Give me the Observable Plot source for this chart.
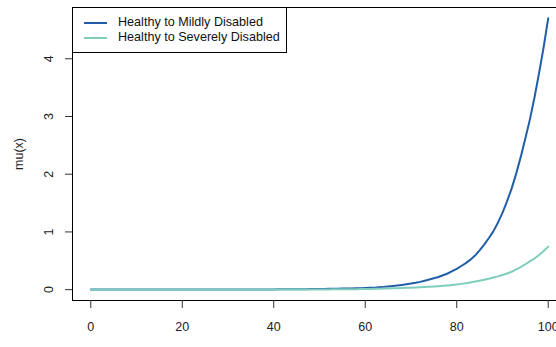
<!DOCTYPE html>
<html>
<head>
<meta charset="utf-8">
<script src="https://cdn.jsdelivr.net/npm/d3@7"></script>
<script src="https://cdn.jsdelivr.net/npm/@observablehq/plot@0.6"></script>
<style>
  html, body { margin: 0; padding: 0; background: #fff; overflow: hidden; }
  #wrap { position: relative; width: 556px; height: 347px; overflow: hidden; font-family: "Liberation Sans", Arial, sans-serif; }
  #wrap svg { max-width: none !important; position: absolute; left: 0; top: 0; }
  #legend { position: absolute; left: 72px; top: 7px; width: 213px; height: 44px; border: 1px solid #000; background: #fff; box-sizing: content-box; }
  .row { position: absolute; left: 0; height: 15px; font-size: 12.6px; line-height: 15px; color: #111; }
  .sw { position: absolute; left: 11px; width: 23px; height: 2px; }
  .lab { position: absolute; left: 45px; white-space: nowrap; }
</style>
</head>
<body>
<div id="wrap"></div>
<script>
const ages = d3.range(0, 101);
const seriesNames = ["Healthy to Mildly Disabled", "Healthy to Severely Disabled"];
const seriesColors = ["#225ea8", "#7fcdbb"];
const mildValues = [
  0.003,0.003,0.003,0.003,0.003,0.003,0.003,0.003,0.003,0.003,
  0.003,0.003,0.003,0.003,0.003,0.003,0.003,0.003,0.003,0.003,
  0.003,0.003,0.003,0.003,0.003,0.003,0.003,0.003,0.003,0.003,
  0.003,0.003,0.003,0.003,0.003,0.003,0.003,0.003,0.003,0.003,
  0.004,0.005,0.005,0.006,0.006,0.007,0.008,0.009,0.010,0.011,
  0.012,0.013,0.014,0.015,0.016,0.018,0.019,0.021,0.023,0.025,
  0.028,0.031,0.035,0.041,0.048,0.055,0.063,0.072,0.082,0.093,
  0.105,0.119,0.135,0.154,0.175,0.197,0.22,0.25,0.28,0.32,
  0.36,0.41,0.46,0.52,0.59,0.68,0.78,0.89,1.01,1.16,
  1.33,1.53,1.75,2.01,2.30,2.62,2.95,3.33,3.75,4.20,
  4.70
];
const severeValues = [
  0.002,0.002,0.002,0.002,0.002,0.002,0.002,0.002,0.002,0.002,
  0.002,0.002,0.002,0.002,0.002,0.002,0.002,0.002,0.002,0.002,
  0.002,0.002,0.002,0.002,0.002,0.002,0.002,0.002,0.002,0.002,
  0.002,0.002,0.002,0.002,0.002,0.002,0.002,0.002,0.002,0.002,
  0.002,0.002,0.002,0.002,0.002,0.002,0.002,0.002,0.002,0.002,
  0.003,0.004,0.004,0.005,0.006,0.006,0.007,0.008,0.009,0.010,
  0.012,0.013,0.015,0.017,0.019,0.021,0.023,0.026,0.029,0.032,
  0.035,0.038,0.042,0.046,0.050,0.055,0.060,0.066,0.073,0.081,
  0.090,0.100,0.110,0.125,0.140,0.155,0.170,0.190,0.210,0.230,
  0.255,0.280,0.310,0.350,0.390,0.440,0.490,0.540,0.600,0.670,
  0.745
];
const xTicks = [0, 20, 40, 60, 80, 100];
const yTicks = [0, 1, 2, 3, 4];
const yLabel = "mu(x)";

const rows = [];
ages.forEach((a, i) => rows.push({age: a, mu: mildValues[i], s: seriesNames[0]}));
ages.forEach((a, i) => rows.push({age: a, mu: severeValues[i], s: seriesNames[1]}));

const chart = Plot.plot({
  width: 566,
  height: 347,
  marginLeft: 72,
  marginRight: 0,
  marginTop: 7,
  marginBottom: 47,
  style: {fontFamily: "'Liberation Sans', Arial, sans-serif", fontSize: "12.5px", background: "#fff", color: "#222", maxWidth: "none"},
  x: {domain: [-4, 104], label: null},
  y: {domain: [-0.188, 4.888], label: null},
  color: {domain: seriesNames, range: seriesColors},
  marks: [
    Plot.line(rows, {x: "age", y: "mu", z: "s", stroke: "s", strokeWidth: 2}),
    Plot.frame({stroke: "#000", strokeWidth: 1}),
    Plot.axisX({ticks: xTicks, tickSize: 8, tickPadding: 14, stroke: "#333", fill: "#222", fontSize: 12.5, label: null, tickFormat: d => String(d)}),
    Plot.axisY({ticks: yTicks, tickSize: 7, text: null, stroke: "#333", label: null}),
    Plot.text(yTicks, {y: d => d, text: d => String(d), frameAnchor: "left", dx: -24, rotate: -90, textAnchor: "middle", fill: "#222", fontSize: 12.5}),
    Plot.text([yLabel], {text: d => d, frameAnchor: "left", dx: -54, rotate: -90, textAnchor: "middle", fill: "#222", fontSize: 12.5})
  ]
});
chart.style.maxWidth = "none";

const wrap = document.getElementById("wrap");
wrap.appendChild(chart);

const legend = document.createElement("div");
legend.id = "legend";
seriesNames.forEach((name, i) => {
  const row = document.createElement("div");
  row.className = "row";
  row.style.top = (7 + i * 15) + "px";
  row.style.width = "100%";
  const sw = document.createElement("div");
  sw.className = "sw";
  sw.style.top = "6.5px";
  sw.style.background = seriesColors[i];
  const lab = document.createElement("div");
  lab.className = "lab";
  lab.textContent = name;
  row.appendChild(sw);
  row.appendChild(lab);
  legend.appendChild(row);
});
wrap.appendChild(legend);
</script>
</body>
</html>
